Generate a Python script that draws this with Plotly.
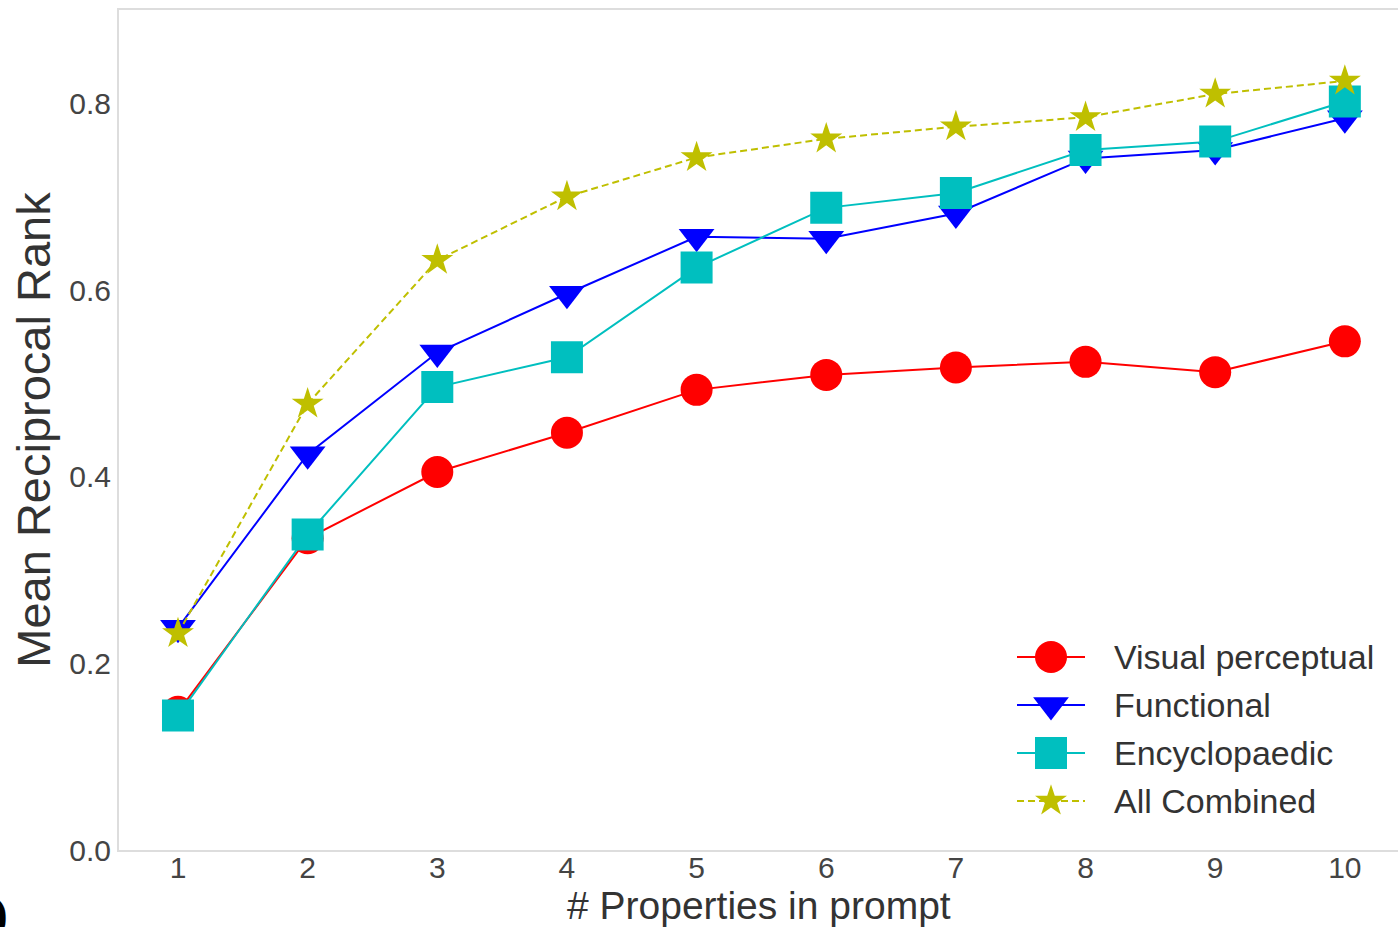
import plotly.graph_objects as go

x_props = [1, 2, 3, 4, 5, 6, 7, 8, 9, 10]
visual = [0.148, 0.334, 0.405, 0.447, 0.493, 0.509, 0.517, 0.523, 0.512, 0.545]
functional = [0.238, 0.424, 0.533, 0.596, 0.657, 0.655, 0.682, 0.741, 0.750, 0.784]
encyclo = [0.144, 0.338, 0.496, 0.528, 0.624, 0.688, 0.704, 0.750, 0.759, 0.802]
combined = [0.232, 0.478, 0.632, 0.700, 0.742, 0.762, 0.775, 0.785, 0.810, 0.824]

series_names = ["Visual perceptual", "Functional", "Encyclopaedic", "All Combined"]
y_ticks = [0.0, 0.2, 0.4, 0.6, 0.8]

styles = [
    dict(color="#ff0000", symbol="circle", size=32, dash="solid", width=2),
    dict(color="#0000ff", symbol="triangle-down", size=31, dash="solid", width=2),
    dict(color="#00bfbf", symbol="square", size=32, dash="solid", width=2),
    dict(color="#bfbf00", symbol="star", size=24, dash="7px,4px", width=2),
]
data = [visual, functional, encyclo, combined]

W, H = 1398, 927
PL, PT, PB = 119, 10, 850   # plot-area edges in page pixels
ML, MR, MT = PL, 0, PT
MB = H - PB

fig = go.Figure()
for name, ys, st in zip(series_names, data, styles):
    fig.add_trace(go.Scatter(
        x=x_props, y=ys, name=name, mode="lines+markers",
        line=dict(color=st["color"], width=st["width"], dash=st["dash"]),
        marker=dict(symbol=st["symbol"], size=st["size"], color=st["color"], line=dict(width=0)),
        showlegend=False, xaxis="x", yaxis="y",
    ))

# custom legend drawn on an overlay axis expressed in page pixels
leg_y = [657, 705, 753, 801]
for name, st, ly in zip(series_names, styles, leg_y):
    fig.add_trace(go.Scatter(
        x=[1017, 1085], y=[ly, ly], mode="lines",
        line=dict(color=st["color"], width=st["width"], dash=st["dash"]),
        showlegend=False, hoverinfo="skip", xaxis="x2", yaxis="y2",
    ))
    fig.add_trace(go.Scatter(
        x=[1051], y=[ly], mode="markers",
        marker=dict(symbol=st["symbol"], size=st["size"], color=st["color"], line=dict(width=0)),
        showlegend=False, hoverinfo="skip", xaxis="x2", yaxis="y2",
    ))
    fig.add_annotation(x=1112, y=ly, xref="x2", yref="y2", text=name, showarrow=False,
                       xanchor="left", yanchor="middle",
                       font=dict(family="Liberation Sans, Arial, sans-serif", size=34, color="#333333"))

axis_font = dict(family="Liberation Sans, Arial, sans-serif", size=30, color="#444444")

fig.update_layout(
    width=W, height=H,
    margin=dict(l=ML, r=MR, t=MT, b=MB, autoexpand=False),
    paper_bgcolor="white", plot_bgcolor="white",
    showlegend=False,
    xaxis=dict(
        range=[0.545, 10.41], tickvals=x_props, ticktext=[str(v) for v in x_props],
        showgrid=False, zeroline=False, showline=True, mirror=True,
        linecolor="#dddddd", linewidth=2, ticks="", tickfont=axis_font,
        ticklabelstandoff=-10, automargin=False,
    ),
    yaxis=dict(
        range=[0, 0.9], tickvals=y_ticks, ticktext=["%.1f" % v for v in y_ticks],
        showgrid=False, zeroline=False, showline=True, mirror=False,
        linecolor="#dddddd", linewidth=2, ticks="", tickfont=axis_font,
        automargin=False,
        title=dict(text="Mean Reciprocal Rank", standoff=4,
                   font=dict(family="Liberation Sans, Arial, sans-serif", size=47, color="#333333")),
    ),
    xaxis2=dict(overlaying="x", range=[PL, W - MR], visible=False, anchor="y2", fixedrange=True),
    yaxis2=dict(overlaying="y", range=[PB, PT], visible=False, anchor="x2", fixedrange=True),
)

# x-axis title as annotation (page y centre ~905)
fig.add_annotation(x=0.5, y=0, xref="paper", yref="paper", yshift=-(905 - PB),
                   text="# Properties in prompt", showarrow=False, xanchor="center", yanchor="middle",
                   font=dict(family="Liberation Sans, Arial, sans-serif", size=39, color="#333333"))

# cropped panel label at bottom-left
fig.add_annotation(x=0, y=0, xref="paper", yref="paper", xshift=-(ML - 10), yshift=-(914 - PB),
                   text="<b>b)</b>", showarrow=False, xanchor="right", yanchor="middle",
                   font=dict(family="Liberation Serif, serif", size=48, color="#000000"))

fig.write_html(
    "out.html",
    config={"displayModeBar": False},
    post_script="document.body.style.margin='0px';document.body.style.overflow='hidden';",
)
